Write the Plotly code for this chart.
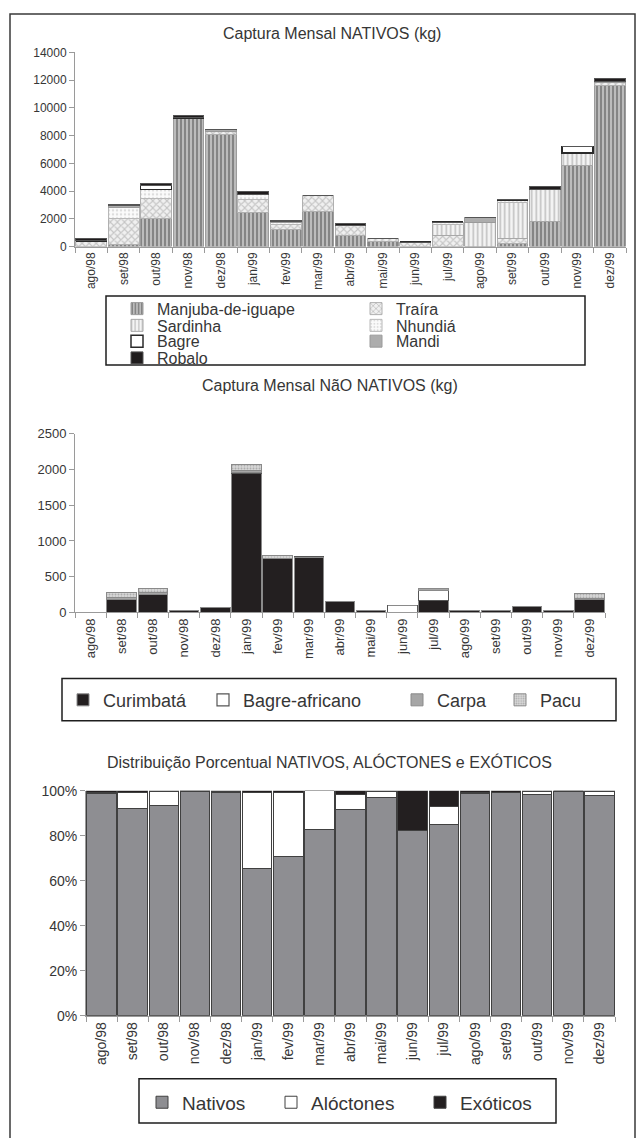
import plotly.graph_objects as go

W, H = 637, 1138
FONT = "Liberation Sans, Arial, sans-serif"
TXT = "#363636"

months = ["ago/98", "set/98", "out/98", "nov/98", "dez/98", "jan/99", "fev/99",
          "mar/99", "abr/99", "mai/99", "jun/99", "jul/99", "ago/99", "set/99",
          "out/99", "nov/99", "dez/99"]

# Monthly catch of native species (kg)
manjuba = [0, 150, 2030, 9270, 8050, 2480, 1200, 2500, 770, 350, 0, 0, 0, 190, 1780, 5850, 11600]
traira = [420, 1900, 1420, 0, 280, 950, 380, 1180, 780, 230, 320, 770, 0, 400, 0, 0, 230]
sardinha = [0, 0, 0, 0, 0, 0, 0, 0, 0, 0, 0, 820, 1740, 2620, 2330, 880, 0]
nhundia = [0, 750, 650, 0, 0, 320, 150, 0, 0, 0, 0, 180, 0, 150, 0, 0, 0]
bagre = [0, 0, 330, 0, 0, 0, 0, 0, 0, 0, 0, 0, 0, 0, 0, 480, 0]
mandi = [0, 180, 0, 0, 80, 0, 100, 0, 0, 0, 0, 0, 350, 0, 0, 0, 100]
robalo = [150, 50, 110, 160, 60, 200, 60, 0, 130, 0, 0, 0, 0, 0, 190, 0, 180]

# Monthly catch of non-native species (kg)
curimbata = [0, 175, 250, 30, 65, 1950, 750, 775, 150, 30, 0, 170, 30, 30, 80, 30, 175]
bagre_africano = [0, 0, 0, 0, 0, 15, 0, 0, 0, 0, 100, 135, 0, 0, 0, 0, 0]
carpa = [0, 30, 25, 0, 0, 25, 0, 0, 0, 0, 0, 25, 0, 0, 0, 0, 20]
pacu = [0, 70, 55, 0, 0, 75, 40, 0, 0, 0, 0, 0, 0, 0, 0, 0, 65]

# Percentage share per month
nativos = [99.0, 92.0, 93.5, 99.7, 99.3, 65.5, 70.8, 82.8, 91.7, 97.2, 82.4, 85.0, 99.0, 99.2, 98.5, 99.7, 98.0]
aloctones = [0.2, 7.3, 6.2, 0.3, 0.5, 33.8, 28.5, 17.2, 6.8, 2.6, 0.0, 8.0, 0.2, 0.2, 1.3, 0.3, 1.7]
exoticos = [0.8, 0.7, 0.3, 0.0, 0.2, 0.7, 0.7, 0.0, 1.5, 0.2, 17.6, 7.0, 0.8, 0.6, 0.2, 0.0, 0.3]

kg_ticks = [0, 2000, 4000, 6000, 8000, 10000, 12000, 14000]
kg_tick_text = ["0", "2000", "4000", "6000", "8000", "10000", "12000", "14000"]
nn_ticks = [0, 500, 1000, 1500, 2000, 2500]
pct_ticks = [0, 20, 40, 60, 80, 100]
pct_tick_text = ["0%", "20%", "40%", "60%", "80%", "100%"]


def fx(px):
    return px / W


def fy(py):
    return 1 - py / H


fig = go.Figure()


def pat(shape, fg, bg, size, solidity):
    return dict(shape=shape, fgcolor=fg, bgcolor=bg, size=size, solidity=solidity)


# ---- chart 1: native species, stacked bars
native_series = [
    ("Manjuba-de-iguape", manjuba, dict(color="#c4c4c4", pattern=pat("|", "#404040", "#cacaca", 4, 0.6),
                                        line=dict(color="#9c9c9c", width=1)), "legend"),
    ("Traíra", traira, dict(color="#eeeeee", pattern=pat("x", "#9a9a9a", "#f0f0f0", 5, 0.4),
                             line=dict(color="#b0b0b0", width=1)), "legend5"),
    ("Sardinha", sardinha, dict(color="#f2f2f2", pattern=pat("|", "#8c8c8c", "#f4f4f4", 4.5, 0.35),
                                line=dict(color="#a8a8a8", width=1)), "legend2"),
    ("Nhundiá", nhundia, dict(color="#f8f8f8", pattern=pat(".", "#bdbdbd", "#fbfbfb", 4, 0.3),
                               line=dict(color="#b8b8b8", width=1)), "legend6"),
    ("Bagre", bagre, dict(color="#ffffff", line=dict(color="#2a2a2a", width=1.5)), "legend3"),
    ("Mandi", mandi, dict(color="#adadad", line=dict(color="#9a9a9a", width=1)), "legend7"),
    ("Robalo", robalo, dict(color="#1f1c1d", line=dict(color="#555555", width=1)), "legend4"),
]
for name, vals, marker, lg in native_series:
    fig.add_trace(go.Bar(x=months, y=vals, name=name, marker=marker,
                         xaxis="x", yaxis="y", legend=lg, showlegend=True))

# ---- chart 2: non-native species
nonnative_series = [
    ("Curimbatá", curimbata, dict(color="#231f20", line=dict(color="#8a8a8a", width=1)), "legend8"),
    ("Bagre-africano", bagre_africano, dict(color="#ffffff", line=dict(color="#555555", width=1.2)), "legend9"),
    ("Carpa", carpa, dict(color="#a6a6a6", line=dict(color="#8a8a8a", width=1)), "legend10"),
    ("Pacu", pacu, dict(color="#d6d6d6", pattern=pat(".", "#7e7e7e", "#d8d8d8", 3, 0.35),
                        line=dict(color="#8a8a8a", width=1)), "legend11"),
]
for name, vals, marker, lg in nonnative_series:
    fig.add_trace(go.Bar(x=months, y=vals, name=name, marker=marker,
                         xaxis="x2", yaxis="y2", legend=lg, showlegend=True))

# ---- chart 3: percentage distribution
pct_series = [
    ("Nativos", nativos, dict(color="#8e8e92", line=dict(color="#404040", width=1)), "legend12"),
    ("Alóctones", aloctones, dict(color="#ffffff", line=dict(color="#404040", width=1)), "legend13"),
    ("Exóticos", exoticos, dict(color="#231f20", line=dict(color="#404040", width=1)), "legend14"),
]
for name, vals, marker, lg in pct_series:
    fig.add_trace(go.Bar(x=months, y=vals, name=name, marker=marker,
                         xaxis="x3", yaxis="y3", legend=lg, showlegend=True))


def xaxis(domain, anchor, size):
    return dict(domain=domain, anchor=anchor, type="category", tickson="boundaries",
                showline=True, linecolor="#9a9a9a", linewidth=1, ticks="outside",
                ticklen=5, tickcolor="#9a9a9a", tickangle=-90, showgrid=False,
                tickfont=dict(family=FONT, size=size, color=TXT), fixedrange=True)


def yaxis(domain, anchor, rng, tickvals, ticktext, size):
    return dict(domain=domain, anchor=anchor, range=rng, tickmode="array",
                tickvals=tickvals, ticktext=ticktext,
                showline=True, linecolor="#9a9a9a", linewidth=1, ticks="outside",
                ticklen=5, tickcolor="#9a9a9a", showgrid=False, zeroline=False,
                tickfont=dict(family=FONT, size=size, color=TXT), fixedrange=True)


layout = dict(
    width=W, height=H, margin=dict(l=0, r=0, t=0, b=0),
    paper_bgcolor="white", plot_bgcolor="white",
    barmode="stack", bargap=0.05, showlegend=True,
    font=dict(family=FONT, color=TXT),
    xaxis=xaxis([fx(75), fx(626)], "y", 12),
    yaxis=yaxis([fy(242), fy(45)], "x", [0, 14000], kg_ticks, kg_tick_text, 12),
    xaxis2=xaxis([fx(75), fx(605)], "y2", 13),
    yaxis2=yaxis([fy(613), fy(432)], "x2", [0, 2500], nn_ticks,
                 [str(v) for v in nn_ticks], 13),
    xaxis3=xaxis([fx(86), fx(615)], "y3", 14),
    yaxis3=yaxis([fy(1022), fy(794)], "x3", [0, 100], pct_ticks, pct_tick_text, 14),
)

# one legend per entry so each label sits at its own place inside the boxes
legend_places = {
    "legend": (157, 305, 16), "legend2": (157, 322, 16), "legend3": (157, 338, 16),
    "legend4": (157, 355, 16), "legend5": (396, 305, 16), "legend6": (396, 322, 16),
    "legend7": (396, 338, 16),
    "legend8": (103, 702, 18), "legend9": (243, 702, 18), "legend10": (437, 702, 18),
    "legend11": (540, 702, 18),
    "legend12": (182, 1110, 19), "legend13": (311, 1110, 19), "legend14": (460, 1110, 19),
}
for key, (tx, ty, fs) in legend_places.items():
    layout[key] = dict(x=fx(tx - 40), y=fy(ty), xanchor="left", yanchor="middle",
                       xref="paper", yref="paper", bgcolor="rgba(0,0,0,0)",
                       borderwidth=0, font=dict(family=FONT, size=fs, color=TXT),
                       itemclick=False, itemdoubleclick=False)

fig.update_layout(**layout)

# chart titles
titles = [
    ("Captura Mensal NATIVOS (kg)", 332, 26, 16),
    ("Captura Mensal NãO NATIVOS (kg)", 330, 383, 16),
    ("Distribuição Porcentual NATIVOS, ALÓCTONES e EXÓTICOS", 329, 765, 16),
]
for text, cx, cy, fs in titles:
    fig.add_annotation(text=text, x=fx(cx), y=fy(cy), xref="paper", yref="paper",
                       xanchor="center", yanchor="middle", showarrow=False,
                       font=dict(family=FONT, size=fs, color=TXT))

# outer frame and legend boxes
boxes = [
    ((10, 6, 635, 1150), "#3a3a3a", 1.5),
    ((106, 292, 585, 362), "#1e1e1e", 1.5),
    ((62, 680, 616, 723), "#1e1e1e", 1.5),
    ((139, 1086, 556, 1131), "#1e1e1e", 1.5),
]
for (x0, y0, x1, y1), col, lw in boxes:
    fig.add_shape(type="rect", xref="paper", yref="paper",
                  x0=fx(x0), x1=fx(x1), y0=fy(y1), y1=fy(y0),
                  line=dict(color=col, width=lw), fillcolor="rgba(0,0,0,0)")

fig.write_html("out.html")
